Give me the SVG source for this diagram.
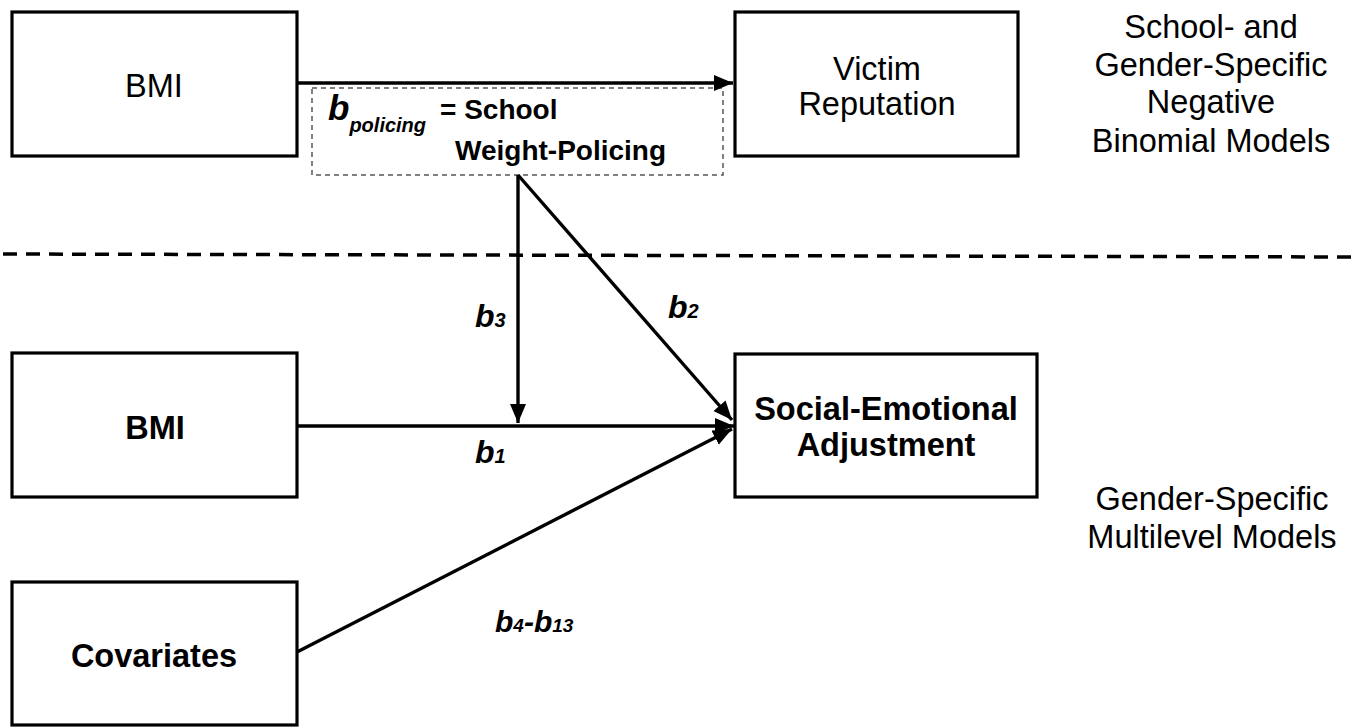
<svg xmlns="http://www.w3.org/2000/svg" width="1360" height="728" viewBox="0 0 1360 728">
<defs>
<style>
text{font-family:"Liberation Sans",Arial,sans-serif;fill:#000}
.box{fill:#fff;stroke:#000;stroke-width:3.2}
.lbl{font-size:32.5px;text-anchor:middle}
.b{font-weight:bold}
.side{font-size:32.5px;text-anchor:middle}
.coef{font-weight:bold;font-style:italic}
.conn{stroke:#000;stroke-width:3.4;fill:none}
</style>
<marker id="ah" markerUnits="userSpaceOnUse" markerWidth="22" markerHeight="18" refX="19" refY="8" orient="auto">
<path d="M0,0 L19,8 L0,16 Z" fill="#000"/>
</marker>
</defs>
<rect width="1360" height="728" fill="#fff"/>

<line x1="3" y1="254" x2="1360" y2="257" stroke="#000" stroke-width="3.5" stroke-dasharray="14 9"/>

<g id="node-bmi-top">
<rect class="box" x="12" y="12" width="285" height="144"/>
<text class="lbl" x="154" y="97">BMI</text>
</g>
<g id="node-victim">
<rect class="box" x="735" y="12" width="283" height="144"/>
<text class="lbl" x="877" y="80">Victim</text>
<text class="lbl" x="877" y="115">Reputation</text>
</g>
<g id="node-policing">
<rect x="312" y="88" width="411" height="87" fill="none" stroke="#555" stroke-width="1.5" stroke-dasharray="5 4"/>
<text class="coef" x="328" y="120" font-size="35">b<tspan font-size="20" dy="12">policing</tspan></text>
<text class="b" x="440" y="119" font-size="28">= School</text>
<text class="b" x="455" y="160" font-size="28">Weight-Policing</text>
</g>
<g id="node-bmi-bottom">
<rect class="box" x="12" y="353" width="285" height="144"/>
<text class="lbl b" x="155" y="439">BMI</text>
</g>
<g id="node-covariates">
<rect class="box" x="12" y="582" width="285" height="143"/>
<text class="lbl b" x="154" y="667">Covariates</text>
</g>
<g id="node-sea">
<rect class="box" x="735" y="354" width="302" height="143"/>
<text class="lbl b" x="886" y="420">Social-Emotional</text>
<text class="lbl b" x="886" y="456">Adjustment</text>
</g>
<g id="label-top">
<text class="side" x="1211" y="38">School- and</text>
<text class="side" x="1211" y="76">Gender-Specific</text>
<text class="side" x="1211" y="113">Negative</text>
<text class="side" x="1211" y="152">Binomial Models</text>
</g>
<g id="label-bottom">
<text class="side" x="1212" y="510">Gender-Specific</text>
<text class="side" x="1212" y="548">Multilevel Models</text>
</g>

<g id="connectors">
<line class="conn" x1="297" y1="83" x2="733" y2="83" marker-end="url(#ah)"/>
<line class="conn" x1="518" y1="175" x2="518" y2="423" marker-end="url(#ah)"/>
<line class="conn" x1="518" y1="175" x2="732" y2="420" marker-end="url(#ah)"/>
<line class="conn" x1="297" y1="426" x2="734" y2="426" marker-end="url(#ah)"/>
<line class="conn" x1="297" y1="652" x2="732" y2="429" marker-end="url(#ah)"/>
</g>

<g id="coefficients">
<text class="coef" x="475" y="327" font-size="32">b<tspan font-size="20">3</tspan></text>
<text class="coef" x="668" y="318" font-size="32">b<tspan font-size="20">2</tspan></text>
<text class="coef" x="475" y="463" font-size="32">b<tspan font-size="20">1</tspan></text>
<text class="coef" x="495" y="632" font-size="30">b<tspan font-size="19">4</tspan>-b<tspan font-size="19">13</tspan></text>
</g>
</svg>
